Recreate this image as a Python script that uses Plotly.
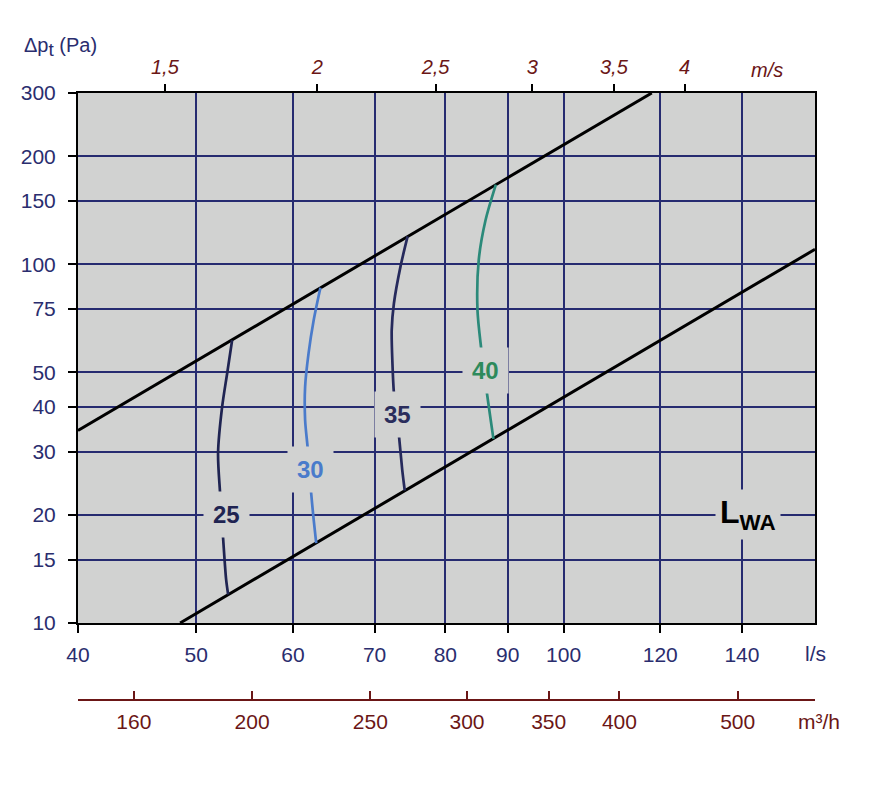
import numpy as np
import plotly.graph_objects as go

# ---------------- data ----------------
flow_ticks = [40, 50, 60, 70, 80, 90, 100, 120, 140]          # l/s
dp_ticks = [10, 15, 20, 30, 40, 50, 75, 100, 150, 200, 300]     # Pa
velocity_ticks = [1.5, 2, 2.5, 3, 3.5, 4]                        # m/s
velocity_text = ["1,5", "2", "2,5", "3", "3,5", "4"]
m3h_ticks = [160, 200, 250, 300, 350, 400, 500]                  # m3/h
duct_diameter_m = 0.2

# system limit lines (l/s, Pa)
upper_q = [40.0, 118.1]
upper_p = [34.4, 300.0]
lower_q = [48.5, 160.7]
lower_p = [10.0, 110.0]

# sound power level curves LWA (l/s, Pa)
c25_q = [53.5, 53.0, 52.5, 52.1, 52.3, 52.6, 52.9, 53.1]
c25_p = [61.4, 49.6, 40.0, 29.7, 23.0, 17.2, 13.2, 12.0]
c30_q = [63.2, 62.4, 61.8, 61.4, 61.4, 61.7, 62.1, 62.4, 62.7]
c30_p = [86.0, 69.8, 56.4, 45.5, 36.8, 30.7, 23.1, 19.4, 16.7]
c35_q = [74.5, 73.5, 72.6, 72.3, 72.4, 72.6, 73.3, 73.75, 74.1]
c35_p = [119.5, 98.3, 77.7, 65.5, 52.9, 43.8, 33.2, 26.7, 23.4]
c40_q = [88.0, 86.3, 85.2, 85.0, 85.6, 86.5, 87.15, 87.6]
c40_p = [166.7, 132.6, 102.6, 74.5, 58.2, 44.1, 36.8, 32.6]

label_names = ["25", "30", "35", "40"]
label_q = [52.9, 62.0, 73.1, 86.3]
label_p = [20.0, 26.7, 38.1, 50.7]

# ---------------- style ----------------
BG = "#d1d2d1"
GRID = "#262b70"
NAVY = "#2a2d6e"
DARKRED = "#6b1616"
FONT = "Liberation Sans, Arial, sans-serif"
TS = 21
curve_colors = ["#1f2452", "#4a7bcb", "#262a5c", "#2b8a7a"]
label_colors = ["#1f2452", "#4a7bcb", "#2a2d5c", "#2e8a5c"]

area = np.pi * duct_diameter_m ** 2 / 4 * 1000  # l/s per m/s
vel_q = [v * area for v in velocity_ticks]
m3h_q = [m / 3.6 for m in m3h_ticks]

xr = [np.log10(40), np.log10(160.7)]
yr = [1, np.log10(300)]

fig = go.Figure()
fig.add_trace(go.Scatter(x=upper_q, y=upper_p, mode="lines",
                         line=dict(color="black", width=3), showlegend=False))
fig.add_trace(go.Scatter(x=lower_q, y=lower_p, mode="lines",
                         line=dict(color="black", width=3), showlegend=False))
for qs, ps, col in zip([c25_q, c30_q, c35_q, c40_q], [c25_p, c30_p, c35_p, c40_p], curve_colors):
    fig.add_trace(go.Scatter(x=qs, y=ps, mode="lines",
                             line=dict(color=col, width=2.7, shape="spline", smoothing=0.8),
                             showlegend=False))
# dummy traces to activate secondary axes
fig.add_trace(go.Scatter(x=[vel_q[0]], y=[10], xaxis="x2", mode="markers",
                         marker=dict(opacity=0), showlegend=False, hoverinfo="skip"))
fig.add_trace(go.Scatter(x=[m3h_q[0]], y=[10], xaxis="x3", mode="markers",
                         marker=dict(opacity=0), showlegend=False, hoverinfo="skip"))

annotations = []
for name, q, p, col in zip(label_names, label_q, label_p, label_colors):
    annotations.append(dict(x=np.log10(q), y=np.log10(p), xref="x", yref="y",
                            text=f"<b>{name}</b>", showarrow=False,
                            font=dict(family=FONT, size=24, color=col),
                            bgcolor=BG, borderpad=9))
annotations.append(dict(x=np.log10(141.5), y=np.log10(20), xref="x", yref="y",
                        text="<b>L<sub>WA</sub></b>", showarrow=False,
                        font=dict(family=FONT, size=32, color="black"),
                        bgcolor=BG, borderpad=4))
annotations.append(dict(x=-0.0244, y=1.0758, xref="paper", yref="paper",
                        xanchor="center", yanchor="middle",
                        text="Δp<sub><span style='font-size:19px'>t</span></sub> (Pa)",
                        showarrow=False,
                        font=dict(family=FONT, size=20, color=NAVY)))
annotations.append(dict(x=0.935, y=1.0379, xref="paper", yref="paper",
                        xanchor="center", yanchor="middle",
                        text="m/s", showarrow=False,
                        font=dict(family=FONT, size=20, color=DARKRED, style="italic")))
annotations.append(dict(x=1.0, y=0.0774, xref="paper", yref="paper",
                        xanchor="center", yanchor="middle",
                        text="l/s", showarrow=False,
                        font=dict(family=FONT, size=TS, color=NAVY)))
annotations.append(dict(x=1.006, y=-0.0362, xref="paper", yref="paper",
                        xanchor="center", yanchor="middle",
                        text="m³/h", showarrow=False,
                        font=dict(family=FONT, size=TS, color=DARKRED)))

fig.update_layout(
    width=884, height=787,
    margin=dict(l=78, r=69, t=93, b=87),
    paper_bgcolor="white", plot_bgcolor=BG,
    font=dict(family=FONT),
    xaxis=dict(type="log", range=xr, tickvals=flow_ticks,
               ticktext=[str(v) for v in flow_ticks],
               showgrid=True, gridcolor=GRID, gridwidth=2,
               showline=True, linecolor="black", linewidth=2, mirror=True,
               ticks="outside", ticklen=8, tickwidth=2, tickcolor="black",
               tickfont=dict(family=FONT, size=TS, color=NAVY),
               ticklabelstandoff=4, anchor="y", zeroline=False),
    xaxis2=dict(type="log", range=xr, overlaying="x", side="top", anchor="y",
                tickvals=vel_q, ticktext=velocity_text,
                showgrid=False, showline=False,
                ticks="outside", ticklen=8, tickwidth=2, tickcolor="black",
                tickfont=dict(family=FONT, size=20, color=DARKRED, style="italic"),
                ticklabelstandoff=2),
    xaxis3=dict(type="log", range=xr, overlaying="x", side="bottom",
                anchor="free", position=0,
                tickvals=m3h_q, ticktext=[str(v) for v in m3h_ticks],
                showgrid=False, showline=True, linecolor=DARKRED, linewidth=2,
                ticks="inside", ticklen=8, tickwidth=2, tickcolor=DARKRED,
                tickfont=dict(family=FONT, size=TS, color=DARKRED),
                ticklabelstandoff=3),
    yaxis=dict(type="log", range=yr, domain=[0.1269, 1],
               tickvals=dp_ticks, ticktext=[str(v) for v in dp_ticks],
               showgrid=True, gridcolor=GRID, gridwidth=2,
               showline=True, linecolor="black", linewidth=2, mirror=True,
               ticks="outside", ticklen=8, tickwidth=2, tickcolor="black",
               tickfont=dict(family=FONT, size=TS, color=NAVY),
               ticklabelstandoff=8, zeroline=False),
    annotations=annotations,
)

fig.write_html("out.html", config={"displayModeBar": False})
